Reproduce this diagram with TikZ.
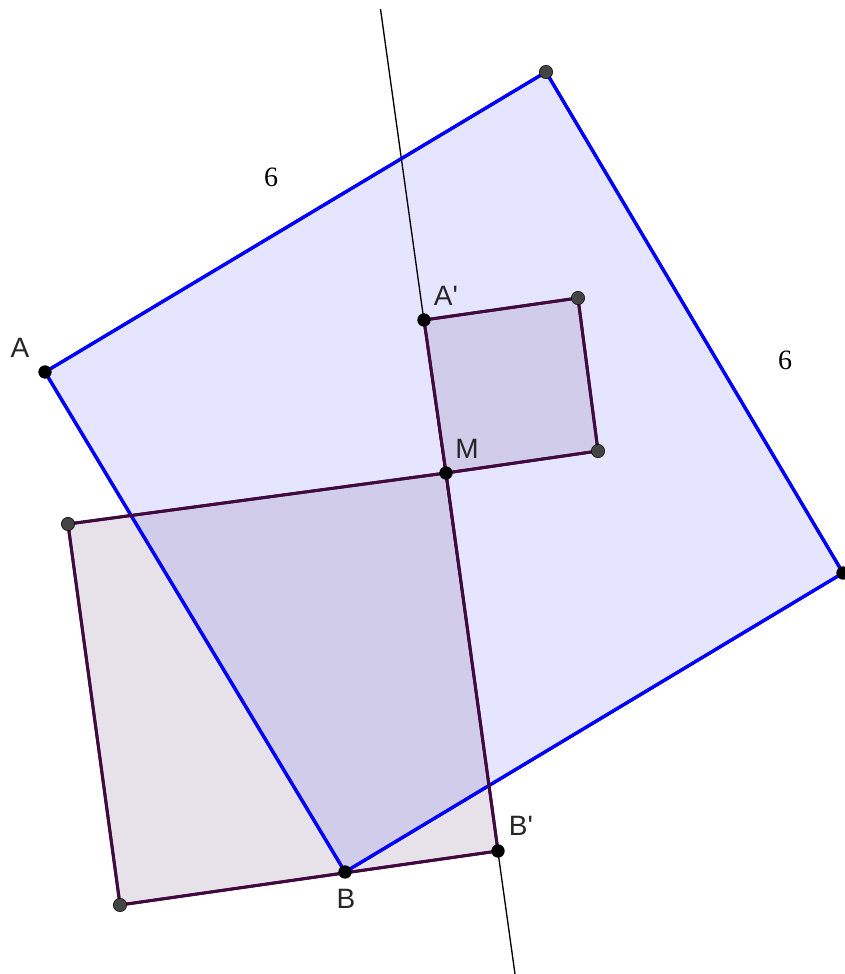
\documentclass[tikz,border=0pt]{standalone}
\usepackage{fontspec}
\setmainfont{Liberation Serif}
\setsansfont{Liberation Sans}
\definecolor{bedge}{RGB}{0,0,255}
\definecolor{pedge}{RGB}{64,10,64}
\definecolor{pfill}{RGB}{87,51,102}
\definecolor{ptgray}{RGB}{68,68,68}
\begin{document}
\begin{tikzpicture}[x=0.75pt,y=-0.75pt,
  bigsq/.style={draw=bedge,line width=2.4pt,fill=bedge,fill opacity=0.1,line join=round},
  psq/.style={draw=pedge,line width=2.2pt,fill=pfill,fill opacity=0.14,line join=round},
  axis/.style={draw=black,line width=1pt},
  namedpt/.style={circle,fill=black,inner sep=0pt,minimum size=10pt},
  freept/.style={circle,fill=ptgray,draw=black,line width=0.4pt,inner sep=0pt,minimum size=10pt},
  lab/.style={font=\sffamily\fontsize{21}{24}\selectfont,text=black!85,inner sep=0pt},
  num/.style={font=\fontsize{21}{24}\selectfont,inner sep=0pt}]
\useasboundingbox (0,0) rectangle (845,974);
% coordinates
\coordinate (A) at (45,372);
\coordinate (T) at (546,72);
\coordinate (R) at (843,573);
\coordinate (B) at (345,872);
\coordinate (Ap) at (424,320);
\coordinate (S1) at (578,298);
\coordinate (S2) at (598,451);
\coordinate (M) at (446,473);
\coordinate (P1) at (68,524);
\coordinate (Bp) at (498,851);
\coordinate (P2) at (120,905);
\coordinate (L1) at (380.5,9);
\coordinate (L2) at (515,974);
% fills and edges
\path[bigsq] (A) -- (T) -- (R) -- (B) -- cycle;
\path[psq] (P1) -- (M) -- (Bp) -- (P2) -- cycle;
\path[psq] (Ap) -- (S1) -- (S2) -- (M) -- cycle;
\draw[axis] (L1) -- (L2);
\draw[draw=bedge,line width=2.4pt,line join=round] (A) -- (T) -- (R) -- (B) -- cycle;
\draw[draw=pedge,line width=2.2pt,line join=round] (P1) -- (M) -- (Bp) -- (P2) -- cycle;
\draw[draw=pedge,line width=2.2pt,line join=round] (Ap) -- (S1) -- (S2) -- (M) -- cycle;
% points
\node[namedpt] (nA) at (A) {};
\node[freept] (nT) at (T) {};
\node[namedpt] (nR) at (R) {};
\node[namedpt] (nB) at (B) {};
\node[namedpt] (nAp) at (Ap) {};
\node[freept] (nS1) at (S1) {};
\node[freept] (nS2) at (S2) {};
\node[namedpt] (nM) at (M) {};
\node[freept] (nP1) at (P1) {};
\node[namedpt] (nBp) at (Bp) {};
\node[freept] (nP2) at (P2) {};
% labels
\node[lab] (tA) at (20,348) {A};
\node[lab] (tAp) at (446,296) {A\textquotesingle};
\node[lab] (tM) at (467,449) {M};
\node[lab] (tB) at (346,899) {B};
\node[lab] (tBp) at (521,826) {B\textquotesingle};
\node[num] (t6a) at (271,177) {6};
\node[num] (t6b) at (785,360) {6};
\end{tikzpicture}
\end{document}
